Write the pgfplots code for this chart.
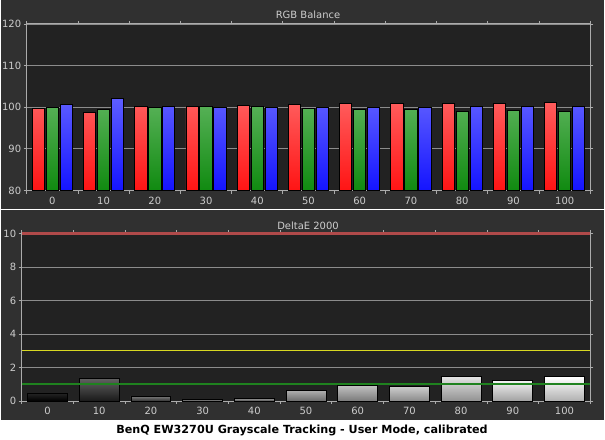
\documentclass[border=0pt]{standalone}
\usepackage{fontspec}
\setmainfont{DejaVu Sans}
\usepackage{pgfplots}
\usepackage{pgfplotstable}
\pgfplotsset{compat=1.18}

\definecolor{panel}{HTML}{303030}
\definecolor{plotbg}{HTML}{222222}
\definecolor{txt}{HTML}{CDCDCD}
\definecolor{gridc}{HTML}{8C8C8C}
\definecolor{frame}{HTML}{ABABAB}
\definecolor{redtop}{HTML}{FF5C5C}
\definecolor{redbot}{HTML}{FF1414}
\definecolor{grntop}{HTML}{55B055}
\definecolor{grnbot}{HTML}{108A10}
\definecolor{blutop}{HTML}{5E5EFF}
\definecolor{blubot}{HTML}{1414FF}
\definecolor{limred}{HTML}{B04A4A}
\definecolor{limyel}{HTML}{D8D822}
\definecolor{limgrn}{HTML}{1F821F}

% RGB balance, one row per stimulus level (index 0..10 = 0..100%)
\pgfplotstableread{
x R     G     B
0 99.8  100.0 100.7
1 98.8  99.5  102.2
2 100.2 100.0 100.2
3 100.2 100.2 100.0
4 100.5 100.2 100.0
5 100.7 99.8  100.0
6 101.0 99.5  100.0
7 101.0 99.5  100.0
8 101.0 99.0  100.2
9 101.0 99.3  100.2
10 101.2 99.0 100.2
}\rgbdata

\pgfplotsset{
  panelaxis/.style={
    scale only axis,
    axis background/.style={fill=plotbg},
    axis line style={frame, line width=1pt},
    xmin=-0.5, xmax=10.5,
    xtick={0,...,10},
    xticklabels={0,10,20,30,40,50,60,70,80,90,100},
    minor xtick={-0.5,0.5,...,10.5},
    every major x tick/.append style={draw=none},
    tick align=outside,
    major tick length=3pt,
    minor tick length=3pt,
    tick style={frame, line width=0.8pt},
    ymajorgrids,
    grid style={gridc, line width=0.8pt},
    ticklabel style={txt, font=\fontsize{10}{11}\selectfont},
    yticklabel style={xshift=1pt},
    /pgf/number format/assume math mode=true,
    clip=false,
  },
}

\begin{document}
\begin{tikzpicture}[x=1pt,y=1pt]
  \fill[panel] (0,0) rectangle (605,441);
  \fill[white] (0,0) rectangle (605,20);
  \draw[white, line width=1.5pt] (0,231) -- (605,231);
  \useasboundingbox (0,0) rectangle (605,441);

  \node[txt, font=\fontsize{10}{11}\selectfont] at (308,426) {RGB Balance};
  \node[txt, font=\fontsize{10}{11}\selectfont] at (308,215) {DeltaE 2000};
  \node[black, font=\bfseries\fontsize{11.2}{13}\selectfont] at (302,9)
    {BenQ EW3270U Grayscale Tracking - User Mode, calibrated};

  % RGB balance
  \begin{axis}[
    panelaxis,
    at={(26pt,250pt)}, anchor=south west,
    width=565pt, height=167pt,
    ymin=80, ymax=120,
    ytick={80,90,100,110,120},
    ybar=1.7pt, bar width=12.3pt,
  ]
    \addplot[draw=black, line width=0.8pt, top color=redtop, bottom color=redbot]
      table[x=x, y=R] {\rgbdata};
    \addplot[draw=black, line width=0.8pt, top color=grntop, bottom color=grnbot]
      table[x=x, y=G] {\rgbdata};
    \addplot[draw=black, line width=0.8pt, top color=blutop, bottom color=blubot]
      table[x=x, y=B] {\rgbdata};
  \end{axis}

  % DeltaE 2000
  \begin{axis}[
    panelaxis,
    at={(21pt,39pt)}, anchor=south west,
    width=570pt, height=168pt,
    ymin=0, ymax=10,
    ytick={0,2,4,6,8,10},
    ybar, bar width=40pt, bar shift=0pt,
  ]
    \addplot[draw=black, line width=0.8pt, top color=white!14!black, bottom color=black] coordinates {(0,0.46)};
    \addplot[draw=black, line width=0.8pt, top color=white!38!black, bottom color=white!10!black] coordinates {(1,1.35)};
    \addplot[draw=black, line width=0.8pt, top color=white!45!black, bottom color=white!20!black] coordinates {(2,0.26)};
    \addplot[draw=black, line width=0.8pt, top color=white!50!black, bottom color=white!26!black] coordinates {(3,0.08)};
    \addplot[draw=black, line width=0.8pt, top color=white!56!black, bottom color=white!32!black] coordinates {(4,0.14)};
    \addplot[draw=black, line width=0.8pt, top color=white!68!black, bottom color=white!42!black] coordinates {(5,0.62)};
    \addplot[draw=black, line width=0.8pt, top color=white!75!black, bottom color=white!48!black] coordinates {(6,0.91)};
    \addplot[draw=black, line width=0.8pt, top color=white!80!black, bottom color=white!54!black] coordinates {(7,0.85)};
    \addplot[draw=black, line width=0.8pt, top color=white!89!black, bottom color=white!57!black] coordinates {(8,1.46)};
    \addplot[draw=black, line width=0.8pt, top color=white!95!black, bottom color=white!63!black] coordinates {(9,1.22)};
    \addplot[draw=black, line width=0.8pt, top color=white, bottom color=white!69!black] coordinates {(10,1.45)};
    % limit lines
    \addplot[sharp plot, limgrn, line width=1.8pt] coordinates {(-0.5,1) (10.5,1)};
    \addplot[sharp plot, limyel, line width=1pt] coordinates {(-0.5,3) (10.5,3)};
    \addplot[sharp plot, limred, line width=2.6pt] coordinates {(-0.5,10) (10.5,10)};
  \end{axis}
\end{tikzpicture}
\end{document}
